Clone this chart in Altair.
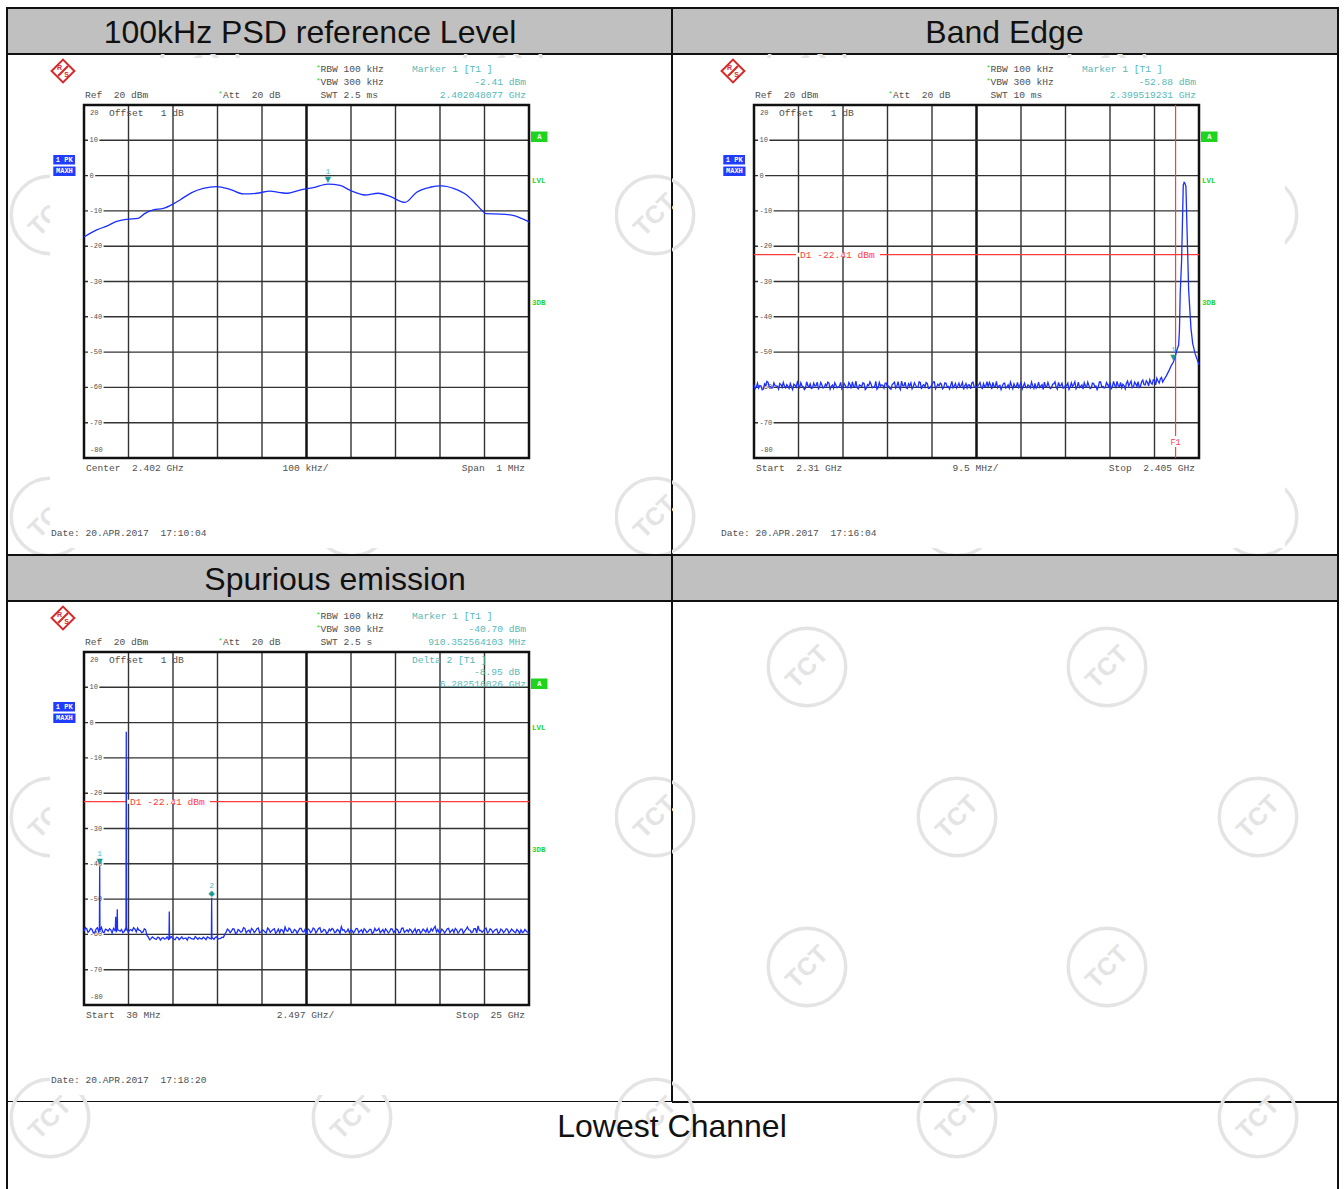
import altair as alt
import pandas as pd

# ---------------------------------------------------------------------------
# Measurement data (frequency in MHz, level in dBm)
# ---------------------------------------------------------------------------

# 100 kHz PSD sweep: centre 2.402 GHz, span 1 MHz
psd_freq_mhz = [
    2401.5000, 2401.5285, 2401.5510, 2401.5735, 2401.5960, 2401.6220, 2401.6371,
    2401.6557, 2401.6782, 2401.7007, 2401.7157, 2401.7420, 2401.7681, 2401.7982,
    2401.8281, 2401.8580, 2401.8881, 2401.9180, 2401.9404, 2401.9584, 2401.9854,
    2402.0153, 2402.048077, 2402.0753, 2402.1016, 2402.1315, 2402.1613, 2402.1876,
    2402.2213, 2402.2476, 2402.2775, 2402.3038, 2402.3299, 2402.3600, 2402.3825,
    2402.3944, 2402.4034, 2402.4348, 2402.4685, 2402.4843, 2402.5000,
]
psd_level_dbm = [
    -17.4, -15.4, -14.3, -13.0, -12.4, -12.1, -10.7,
    -9.7, -9.3, -8.0, -6.9, -4.8, -3.6, -3.1,
    -3.9, -5.2, -5.0, -4.4, -4.8, -5.0, -4.1,
    -3.4, -2.41, -2.8, -4.4, -5.5, -5.0, -5.9,
    -7.6, -4.7, -3.3, -2.9, -3.6, -5.5, -8.3,
    -9.9, -10.8, -10.9, -11.4, -12.2, -13.1,
]
psd_marker = (2402.048077, -2.41)

# Band edge sweep 2.31 - 2.405 GHz: noise floor on a 0.5 MHz raster (plus the
# in-between samples at +0.25 MHz), then the carrier skirt
edge_noise_start_mhz = 2310.0
edge_noise_step_mhz = 0.5
edge_noise_dbm = [
    -59.3, -59.9, -60.2, -59.6, -60.5, -59.4, -58.6, -59.8, -60.1, -59.5, -59.7, -58.9, -60.0, -59.6, -59.2, -60.3, -59.8, -59.1, -59.9, -59.4,
    -58.7, -59.8, -60.2, -59.5, -59.0, -60.1, -59.6, -58.5, -59.9, -59.3, -60.0, -59.6, -58.8, -59.7, -60.2, -59.4, -59.9, -58.6, -59.8, -59.5,
    -60.1, -59.2, -58.4, -59.9, -60.0, -59.3, -59.8, -58.9, -60.2, -59.5, -59.1, -59.9, -58.3, -60.0, -59.6, -59.4, -58.8, -59.9, -60.3, -59.2,
    -58.5, -59.7, -59.9, -58.2, -59.6, -60.1, -59.0, -58.7, -59.8, -59.4, -60.0, -58.6, -59.5, -59.9, -58.9, -60.2, -59.3, -58.4, -59.8, -59.6,
    -59.1, -60.0, -58.8, -59.7, -59.4, -60.1, -58.9, -59.6, -59.9, -58.6, -59.5, -60.2, -59.3, -58.7, -59.8, -59.9, -59.2, -60.0, -58.9, -59.6,
    -59.9, -59.3, -58.6, -59.8, -60.1, -59.4, -59.7, -58.8, -59.9, -60.2, -59.5, -59.0, -59.8, -60.0, -58.7, -59.6, -59.9, -59.3, -60.1, -59.5,
    -58.9, -59.7, -60.0, -59.2, -58.5, -59.8, -59.6, -60.1, -59.0, -59.9, -58.6, -59.5, -60.2, -59.4, -58.8, -59.9, -59.7, -58.4, -59.8, -60.0,
    -59.3, -58.7, -59.9, -59.5, -60.1, -58.9, -59.6, -59.8, -58.5, -59.7, -60.0, -59.2, -58.6, -59.9, -59.4, -58.3, -59.8, -60.1, -59.5, -58.8,
    -59.6, -58.2, -59.9, -59.0, -58.4, -59.7, -57.9, -59.3, -58.6, -57.8, -59.1, -58.0, -57.4, -58.8, -57.2, -57.9,
]
edge_noise_mid_dbm = [
    -60.4, -58.8, -59.5, -60.7, -59.0, -58.3, -59.9, -60.2, -58.7, -59.6, -60.5, -59.2, -58.6, -60.1, -59.7, -58.9, -60.6, -59.4, -58.5, -60.0,
    -59.6, -60.6, -58.4, -59.9, -60.3, -58.8, -59.5, -60.4, -58.6, -60.2, -59.1, -58.5, -60.5, -59.3, -58.7, -60.1, -59.6, -60.4, -58.9, -60.0,
    -58.6, -60.3, -59.7, -58.2, -60.4, -59.5, -58.7, -60.6, -59.2, -58.4, -60.1, -59.8, -60.5, -58.6, -59.3, -60.2, -58.8, -59.6, -60.5, -58.9,
    -60.2, -58.4, -60.6, -59.5, -58.5, -60.3, -59.6, -60.4, -58.7, -59.9, -58.4, -60.5, -59.2, -58.6, -60.3, -59.7, -58.5, -60.4, -59.1, -58.8,
    -60.4, -58.7, -59.9, -60.5, -58.3, -59.6, -60.2, -58.8, -59.4, -60.6, -58.9, -59.3, -60.4, -58.5, -60.1, -59.6, -58.6, -60.3, -59.8, -58.4,
    -58.6, -60.5, -59.7, -58.3, -59.6, -60.6, -58.9, -60.2, -59.3, -58.5, -60.4, -59.8, -58.6, -59.4, -60.5, -58.8, -60.1, -59.6, -58.5, -60.3,
    -60.2, -58.5, -59.6, -60.6, -59.8, -58.6, -60.3, -59.1, -58.4, -60.5, -59.6, -58.8, -60.1, -59.5, -60.6, -58.7, -59.2, -60.4, -58.5, -59.7,
    -60.5, -59.6, -58.5, -60.3, -58.8, -59.7, -60.6, -58.4, -59.9, -60.2, -58.6, -59.8, -60.4, -58.3, -60.0, -59.5, -58.6, -59.1, -60.4, -58.2,
    -58.9, -60.1, -58.5, -59.7, -60.0, -58.4, -59.2, -58.1, -59.6, -58.7, -57.8, -59.3, -58.2, -57.6, -58.5, -57.3,
]
edge_skirt_freq_mhz = [
    2398.0, 2398.64, 2399.16, 2399.519231, 2399.86, 2400.28, 2400.65, 2400.82, 2400.99,
    2401.29, 2401.64, 2401.83, 2402.0, 2402.21, 2402.43, 2402.79, 2403.28, 2403.65,
    2404.14, 2404.57, 2405.0,
]
edge_skirt_dbm = [
    -56.8, -55.1, -53.6, -52.88, -51.5, -49.4, -48.0, -44.0, -33.3,
    -23.9, -2.7, -1.9, -2.2, -3.1, -14.5, -32.4, -43.2, -47.5,
    -50.3, -52.0, -53.6,
]
edge_marker = (2399.519231, -52.88)
edge_f1_mhz = 2400.0
display_line_dbm = -22.41

# Spurious sweep 30 MHz - 25 GHz: 167 sweep points, the samples between them,
# plus the discrete emissions
spur_start_mhz = 30.0
spur_stop_mhz = 25000.0
spur_noise_dbm = [
    -59.2, -58.4, -59.0, -58.6, -59.5, -58.1, -58.8, -59.3, -58.5, -59.1, -58.7, -58.3,
    -59.4, -58.9, -58.6, -59.2, -58.4, -58.8, -59.0, -58.5, -58.2, -58.9, -59.3, -58.7,
    -60.8, -61.2, -61.0, -61.4, -60.9, -61.1, -61.3, -60.7, -61.2, -61.0, -61.5, -60.9,
    -61.1, -61.3, -61.0, -60.8, -61.2, -61.4, -61.0, -60.9, -61.3, -61.1, -60.7, -61.2,
    -61.0, -60.8, -61.3, -61.1, -60.9,
    -59.4, -58.8, -59.1, -58.5, -59.6, -58.9, -59.2, -58.3, -59.0, -59.5,
    -58.7, -59.1, -58.2, -59.3, -58.9, -59.6, -58.6, -59.0, -58.4, -59.2,
    -59.5, -58.8, -57.9, -59.1, -58.6, -59.4, -58.9, -59.0, -58.3, -59.3,
    -59.6, -58.7, -59.1, -58.5, -59.0, -58.1, -59.2, -58.8, -59.4, -59.0,
    -58.6, -59.3, -58.9, -57.8, -58.7, -59.2, -59.5, -58.9, -59.1, -58.4,
    -59.0, -59.6, -58.8, -59.2, -58.6, -59.4, -59.0, -58.3, -59.1, -59.5,
    -58.9, -59.2, -58.5, -59.0, -58.7, -59.4, -58.2, -59.1, -59.3, -58.8,
    -59.0, -59.6, -58.6, -59.2, -58.9, -58.4, -59.3, -59.0, -57.7, -58.6,
    -59.4, -58.9, -59.1, -58.3, -59.0, -59.5, -58.7, -59.2, -58.5, -59.1,
    -57.9, -58.8, -59.3, -58.4, -57.6, -58.9, -59.0, -58.2, -59.3, -58.7,
    -59.0, -58.5, -59.4, -58.8, -59.1, -58.6, -59.2, -58.9, -59.5, -59.0,
    -58.7, -59.3, -59.1, -59.6,
]
spur_noise_mid_dbm = [
    -58.1, -59.4, -58.3, -59.6, -58.5, -59.2, -58.0, -59.5, -58.7, -58.4, -59.6, -58.8,
    -58.2, -59.1, -59.5, -58.3, -59.4, -58.6, -58.1, -59.3, -58.8, -59.5, -58.4,
    -60.3,
    -61.5, -60.7, -61.3, -60.8, -61.6, -60.9, -61.2, -61.4, -60.6, -61.3, -60.8, -61.5,
    -60.7, -61.1, -61.6, -60.9, -61.3, -60.6, -61.4, -61.2, -60.8, -61.5, -60.9, -61.3,
    -61.4, -60.7, -61.2, -60.8,
    -60.0,
    -58.5, -59.5, -58.4, -59.7, -58.6, -59.4, -58.1, -59.6, -58.8, -58.3,
    -59.5, -58.4, -59.6, -58.7, -59.3, -58.2, -59.4, -58.6, -59.7, -58.5,
    -58.6, -59.6, -58.9, -58.2, -59.5, -58.6, -59.7, -58.3, -59.2, -58.5,
    -58.4, -59.5, -58.2, -59.6, -58.3, -59.4, -58.6, -59.7, -58.5, -58.3,
    -59.5, -58.6, -59.7, -58.8, -59.4, -58.5, -58.7, -59.6, -58.3, -59.5,
    -58.7, -58.4, -59.5, -58.6, -59.7, -58.3, -58.8, -59.5, -58.6, -58.4,
    -59.6, -58.4, -59.5, -58.5, -59.6, -58.3, -59.4, -58.7, -58.5, -59.6,
    -58.4, -58.7, -59.6, -58.5, -59.4, -59.5, -58.4, -58.3, -59.3, -59.5,
    -58.5, -59.6, -58.4, -59.5, -58.6, -58.3, -59.6, -58.5, -59.7, -58.6,
    -58.7, -59.5, -58.4, -59.6, -58.9, -59.4, -58.5, -59.6, -58.4, -59.5,
    -58.6, -59.7, -58.5, -59.5, -58.4, -59.6, -58.5, -59.3, -58.6, -59.7,
    -59.5, -58.6, -59.4,
]
spur_peak_freq_mhz = [
    895.0, 910.352564, 925.0, 1790.0, 1809.0, 1828.0, 1880.0, 1899.0, 1918.0,
    2386.0, 2402.0, 2418.0, 4800.0, 4816.0, 4832.0, 7177.0, 7192.868590, 7208.0,
]
spur_peak_dbm = [
    -58.6, -40.70, -58.9, -58.5, -55.0, -58.8, -58.7, -52.9, -58.6,
    -58.9, -2.6, -58.7, -61.0, -53.5, -60.9, -60.9, -49.65, -61.1,
]
spur_marker1 = (910.352564, -40.70)
spur_delta2 = (6282.516026, -8.95)

# ---------------------------------------------------------------------------
# Styling
# ---------------------------------------------------------------------------
MONO = "Liberation Mono"
SANS = "Liberation Sans"
GRAY = "#505050"
CYAN = "#55b9b9"
MARK = "#1c9a9a"
GREEN = "#1fd41f"
RED = "#ff3c3c"
BLUE = "#1b2fff"
GRID = "#333333"
WMC = "#e4e4e4"
LINE = "#111111"
RS_RED = "#d42a2a"
BOX_BLUE = "#1f3cff"
TITLE_SIZE = 32

ONE = pd.DataFrame({"k": [0]})

WM_ROWS = [65, 215, 367, 517, 667, 817, 967, 1118]
WM_COLS = ([200, 503, 807, 1107], [50, 352, 655, 957, 1258])


def nb(s):
    return s.replace(" ", "\u00a0")


def text(s, x, y, color=GRAY, align="left", size=9.6, font=MONO, weight="normal",
         angle=0, clip=False, baseline="middle"):
    return alt.Chart(ONE).mark_text(
        text=nb(s), align=align, baseline=baseline, font=font, fontSize=size,
        fontWeight=weight, color=color, angle=angle, clip=clip,
    ).encode(x=alt.value(x), y=alt.value(y))


def box(x0, x1, y0, y1, color):
    return alt.Chart(ONE).mark_rect(color=color).encode(
        x=alt.value(x0), x2=alt.value(x1), y=alt.value(y0), y2=alt.value(y1))


def watermarks(ox, oy, w, h):
    out = []
    for i, cy in enumerate(WM_ROWS):
        for cx in WM_COLS[i % 2]:
            if cx + 42 < ox or cx - 42 > ox + w or cy + 42 < oy or cy - 42 > oy + h:
                continue
            px, py = cx - ox, cy - oy
            out.append(alt.Chart(ONE).mark_point(
                shape="circle", size=6000, filled=False, color=WMC, strokeWidth=3.5,
                opacity=1, clip=True).encode(x=alt.value(px), y=alt.value(py)))
            out.append(text("TCT", px, py, color=WMC, align="center", size=25, font=SANS,
                            weight="bold", angle=315, clip=True))
    return out


def header(label, w, h, cx):
    return alt.Chart(ONE).mark_text(
        text=label, font=SANS, fontSize=TITLE_SIZE, color="#111111", align="center",
        baseline="alphabetic").encode(x=alt.value(cx), y=alt.value(35)).properties(
        width=w, height=h,
        view=alt.ViewBackground(fill="#c0c0c0", stroke=LINE, strokeWidth=2))


def spectrum(p):
    W, H = p["w"], p["h"]
    L, R, T, B = p["grat"]
    f0, f1 = p["span"]
    kx = (f1 - f0) / (R - L)
    ky = 100.0 / (B - T)
    xs = alt.Scale(domain=[f0 - L * kx, f1 + (W - R) * kx], nice=False, zero=False)
    ys = alt.Scale(domain=[-80 - (H - B) * ky, 20 + T * ky], nice=False, zero=False)

    def xf(field):
        return alt.X(field, type="quantitative", scale=xs, axis=None)

    def yf(field):
        return alt.Y(field, type="quantitative", scale=ys, axis=None)

    def xd(v):
        return alt.XDatum(v, scale=xs, axis=None)

    def yd(v):
        return alt.YDatum(v, scale=ys, axis=None)

    layers = watermarks(p["ox"], p["oy"], W, H)
    ix0, ix1, iy0, iy1 = p["image"]
    layers.append(box(ix0, ix1, iy0, iy1, "white"))

    # graticule
    div = (f1 - f0) / 10.0
    vgrid = pd.DataFrame({"f": [f0 + i * div for i in range(1, 10) if i != 5]})
    layers.append(alt.Chart(vgrid).mark_rule(color=GRID, strokeWidth=1.4).encode(
        x=xf("f"), y=yd(20), y2=alt.Y2Datum(-80)))
    layers.append(alt.Chart(ONE).mark_rule(color=LINE, strokeWidth=2.5).encode(
        x=xd(f0 + 5 * div), y=yd(20), y2=alt.Y2Datum(-80)))
    levels = list(range(10, -80, -10))
    hgrid = pd.DataFrame({"db": levels})
    layers.append(alt.Chart(hgrid).mark_rule(color=GRID, strokeWidth=1.4).encode(
        y=yf("db"), x=xd(f0), x2=alt.X2Datum(f1)))
    for v in levels:
        lab = str(v)
        layers.append(alt.Chart(ONE).mark_rule(color="white", strokeWidth=4).encode(
            x=alt.value(L + 4), x2=alt.value(L + 7 + len(lab) * 4.2), y=yd(v)))
        layers.append(alt.Chart(ONE).mark_text(
            text=lab, align="left", baseline="middle", font=MONO, fontSize=7,
            color=GRAY).encode(x=alt.value(L + 5.5), y=yd(v)))
    layers.append(alt.Chart(ONE).mark_rect(fillOpacity=0, stroke=LINE, strokeWidth=2.5).encode(
        x=xd(f0), x2=alt.X2Datum(f1), y=yd(20), y2=alt.Y2Datum(-80)))

    # display line D1 and frequency line F1
    if p.get("d1") is not None:
        d1 = p["d1"]
        layers.append(alt.Chart(ONE).mark_rule(color=RED, strokeWidth=1.2).encode(
            y=yd(d1), x=xd(f0), x2=alt.X2Datum(f1)))
        layers.append(alt.Chart(ONE).mark_rule(color="white", strokeWidth=4).encode(
            y=yd(d1), x=alt.value(L + 42), x2=alt.value(L + 126)))
        layers.append(alt.Chart(ONE).mark_text(
            text=nb(f"D1 {d1:.2f} dBm"), align="left", baseline="middle", font=MONO,
            fontSize=9.6, color=RED).encode(x=alt.value(L + 46), y=yd(d1)))
    if p.get("f1") is not None:
        fl = p["f1"]
        layers.append(alt.Chart(ONE).mark_rule(color=RED, strokeWidth=1.2).encode(
            x=xd(fl), y=yd(20), y2=alt.Y2Datum(-80)))
        layers.append(alt.Chart(ONE).mark_rule(color="white", strokeWidth=4).encode(
            x=xd(fl), y=alt.value(B - 22), y2=alt.value(B - 11)))
        layers.append(alt.Chart(ONE).mark_text(
            text="F1", align="center", baseline="middle", font=MONO, fontSize=8.5,
            color=RED).encode(x=xd(fl), y=alt.value(B - 16.5)))

    # trace
    layers.append(alt.Chart(p["trace"]).mark_line(
        color=BLUE, strokeWidth=1.3, interpolate=p.get("interp", "linear")).encode(
        x=xf("f"), y=yf("db")))

    # markers
    for num, mf, mdb, glyph in p["markers"]:
        m = pd.DataFrame({"f": [mf], "db": [mdb]})
        layers.append(alt.Chart(m).mark_text(
            text=glyph, font="DejaVu Sans", fontSize=8, color=MARK, dy=-4,
            baseline="middle").encode(x=xf("f"), y=yf("db")))
        layers.append(alt.Chart(m).mark_text(
            text=str(num), font=MONO, fontSize=8, color=CYAN, dy=-12,
            baseline="middle").encode(x=xf("f"), y=yf("db")))

    # instrument settings
    layers += [
        text("*", L + 232, T - 37, GREEN, size=8),
        text("RBW 100 kHz", L + 236.5, T - 36),
        text("*", L + 232, T - 24, GREEN, size=8),
        text("VBW 300 kHz", L + 236.5, T - 23),
        text(p["swt"], L + 236.5, T - 10),
        text("Ref  20 dBm", L + 1, T - 10),
        text("*", L + 134, T - 11, GREEN, size=8),
        text("Att  20 dB", L + 139, T - 10),
        text("Marker 1 [T1 ]", L + 328, T - 36, CYAN),
        text(p["m_level"], L + 442, T - 23, CYAN, align="right"),
        text(p["m_freq"], L + 442, T - 10, CYAN, align="right"),
        text("Offset   1 dB", L + 25, T + 8),
        text("20", L + 6, T + 8, size=7),
        text("-80", L + 6, B - 8, size=7),
        text(p["bottom"][0], L + 2, B + 10),
        text(p["bottom"][1], (L + R) / 2 - 1, B + 10, align="center"),
        text(p["bottom"][2], R - 4, B + 10, align="right"),
        text(p["date"], L - 33, B + 75),
    ]
    if p.get("delta"):
        d = p["delta"]
        layers += [
            text(d[0], L + 328, T + 7.5, CYAN),
            text(d[1], L + 436, T + 20, CYAN, align="right"),
            text(d[2], L + 442, T + 32, CYAN, align="right"),
        ]

    # side annotations
    layers += [
        box(L - 30.7, L - 9, T + 50, T + 59.5, BOX_BLUE),
        text("1 PK", L - 19.8, T + 55, "white", align="center", size=7, weight="bold"),
        box(L - 30.7, L - 8.5, T + 61.5, T + 71, BOX_BLUE),
        text("MAXH", L - 19.6, T + 66.3, "white", align="center", size=7, weight="bold"),
        box(R + 2, R + 18.5, T + 26.5, T + 37, GREEN),
        text("A", R + 10.25, T + 32, "white", align="center", size=7, weight="bold"),
        text("LVL", R + 3, T + 76, GREEN, size=7.5, weight="bold"),
        text("3DB", R + 3, T + 198, GREEN, size=7.5, weight="bold"),
    ]

    # R&S logo
    cx, cy = L - 21, T - 34
    layers += [
        alt.Chart(ONE).mark_point(shape="diamond", size=520, filled=False, color=RS_RED,
                                  strokeWidth=2, opacity=1).encode(
            x=alt.value(cx), y=alt.value(cy)),
        alt.Chart(ONE).mark_rule(color=RS_RED, strokeWidth=2.2).encode(
            x=alt.value(cx + 5), x2=alt.value(cx - 5), y=alt.value(cy - 5), y2=alt.value(cy + 5)),
        text("R", cx - 3.5, cy - 3.5, RS_RED, align="center", size=7, font=SANS, weight="bold"),
        text("S", cx + 3.5, cy + 3.5, RS_RED, align="center", size=7, font=SANS, weight="bold"),
    ]

    return alt.layer(*layers).properties(
        width=W, height=H,
        view=alt.ViewBackground(fill="white", stroke=LINE, strokeWidth=2))


# ---------------------------------------------------------------------------
# Traces
# ---------------------------------------------------------------------------
psd_df = pd.DataFrame({"f": psd_freq_mhz, "db": psd_level_dbm})

edge_f = [edge_noise_start_mhz + i * edge_noise_step_mhz for i in range(len(edge_noise_dbm))]
edge_fm = [edge_noise_start_mhz + (i + 0.5) * edge_noise_step_mhz for i in range(len(edge_noise_mid_dbm))]
edge_df = pd.DataFrame({
    "f": edge_f + edge_fm + edge_skirt_freq_mhz,
    "db": edge_noise_dbm + edge_noise_mid_dbm + edge_skirt_dbm,
})

spur_step = (spur_stop_mhz - spur_start_mhz) / (len(spur_noise_dbm) - 1)
spur_f = [spur_start_mhz + i * spur_step for i in range(len(spur_noise_dbm))]
spur_fm = [spur_start_mhz + (i + 0.5) * spur_step for i in range(len(spur_noise_mid_dbm))]
spur_df = pd.DataFrame({
    "f": spur_f + spur_fm + spur_peak_freq_mhz,
    "db": spur_noise_dbm + spur_noise_mid_dbm + spur_peak_dbm,
})
spur_df = spur_df.sort_values("f").reset_index(drop=True)
spur_marker2 = (spur_marker1[0] + spur_delta2[0], spur_marker1[1] + spur_delta2[1])

P1 = dict(
    ox=7, oy=54, w=665, h=501, grat=(77, 522, 51, 404), span=(2401.5, 2402.5),
    image=(43, 608, 4, 494), trace=psd_df, interp="monotone",
    markers=[(1, psd_marker[0], psd_marker[1], "\u25bc")],
    swt="SWT 2.5 ms", m_level=f"{psd_marker[1]:.2f} dBm", m_freq="2.402048077 GHz",
    bottom=("Center  2.402 GHz", "100 kHz/", "Span  1 MHz"),
    date="Date: 20.APR.2017  17:10:04",
)
P2 = dict(
    ox=672, oy=54, w=666, h=501, grat=(82, 527, 51, 404), span=(2310.0, 2405.0),
    image=(48, 613, 4, 494), trace=edge_df, d1=display_line_dbm, f1=edge_f1_mhz,
    markers=[(1, edge_marker[0], edge_marker[1], "\u25bc")],
    swt="SWT 10 ms", m_level=f"{edge_marker[1]:.2f} dBm", m_freq="2.399519231 GHz",
    bottom=("Start  2.31 GHz", "9.5 MHz/", "Stop  2.405 GHz"),
    date="Date: 20.APR.2017  17:16:04",
)
P3 = dict(
    ox=7, oy=601, w=665, h=501, grat=(77, 522, 51, 404), span=(spur_start_mhz, spur_stop_mhz),
    image=(43, 608, 4, 494), trace=spur_df, d1=display_line_dbm,
    markers=[(1, spur_marker1[0], spur_marker1[1], "\u25bc"),
             (2, spur_marker2[0], spur_marker2[1], "\u25c6")],
    swt="SWT 2.5 s", m_level=f"{spur_marker1[1]:.2f} dBm", m_freq="910.352564103 MHz",
    delta=("Delta 2 [T1 ]", f"{spur_delta2[1]:.2f} dB", "6.282516026 GHz"),
    bottom=("Start  30 MHz", "2.497 GHz/", "Stop  25 GHz"),
    date="Date: 20.APR.2017  17:18:20",
)

blank = alt.layer(*watermarks(672, 601, 666, 501)).properties(
    width=666, height=501,
    view=alt.ViewBackground(fill="white", stroke=LINE, strokeWidth=2))

# bottom row: one caption spanning both columns, split over two borderless cells;
# the caption sits in the right cell so it is painted after both backgrounds
foot_left = alt.layer(
    *watermarks(7, 1102, 665, 87),
    alt.Chart(ONE).mark_rule(color=LINE, strokeWidth=2).encode(
        x=alt.value(0), y=alt.value(0), y2=alt.value(87)),
).properties(width=665, height=87,
             view=alt.ViewBackground(fill="white", stroke="transparent", strokeWidth=0))

foot_right = alt.layer(
    *watermarks(672, 1102, 666, 87),
    alt.Chart(ONE).mark_rule(color=LINE, strokeWidth=2).encode(
        x=alt.value(666), y=alt.value(0), y2=alt.value(87)),
    alt.Chart(ONE).mark_text(text="Lowest Channel", font=SANS, fontSize=TITLE_SIZE,
                             color="#111111", align="center", baseline="alphabetic").encode(
        x=alt.value(0), y=alt.value(35)),
).properties(width=666, height=87,
             view=alt.ViewBackground(fill="transparent", stroke="transparent", strokeWidth=0))

chart = alt.concat(
    header("100kHz PSD reference Level", 665, 46, 303),
    header("Band Edge", 666, 46, 332.5),
    spectrum(P1), spectrum(P2),
    header("Spurious emission", 665, 46, 328),
    header("", 666, 46, 333),
    spectrum(P3), blank,
    foot_left, foot_right,
    columns=2, spacing=0, bounds="flush",
).properties(
    padding={"left": 6, "top": 7, "right": 4, "bottom": 0},
    background="white",
)

chart.save("out.html", embed_options={"renderer": "svg", "actions": False})
